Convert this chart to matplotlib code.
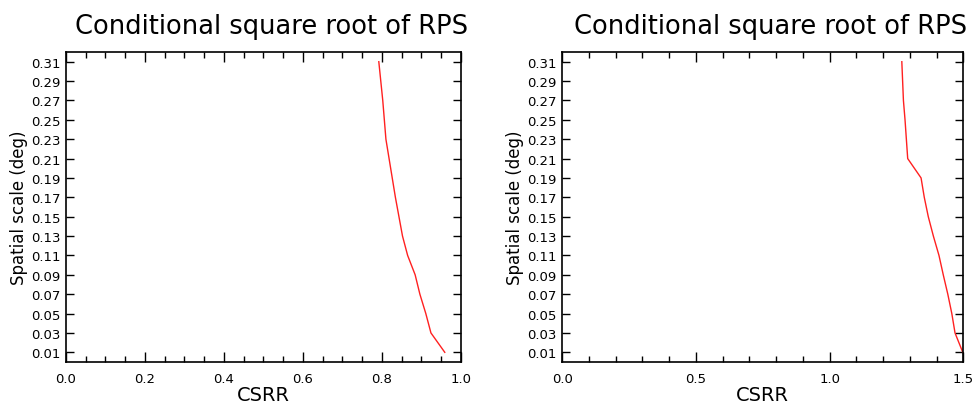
import matplotlib

matplotlib.use("Agg")

import matplotlib.pyplot as plt
import numpy as np
from matplotlib.ticker import MultipleLocator, FormatStrFormatter

# Spatial scale (deg), shared by both panels
scale = [0.31, 0.29, 0.27, 0.25, 0.23, 0.21, 0.19, 0.17,
         0.15, 0.13, 0.11, 0.09, 0.07, 0.05, 0.03, 0.01]

# CSRR
csrr_left = [0.792, 0.797, 0.802, 0.806, 0.810, 0.818, 0.826, 0.834,
             0.843, 0.852, 0.865, 0.884, 0.896, 0.911, 0.924, 0.959]
csrr_right = [1.270, 1.273, 1.276, 1.282, 1.287, 1.292, 1.342, 1.354,
              1.369, 1.388, 1.409, 1.425, 1.442, 1.457, 1.469, 1.498]

title = "Conditional square root of RPS"
ytick_vals = np.round(np.arange(0.01, 0.32, 0.02), 2)

fig = plt.figure(figsize=(9.76, 4.06), dpi=100)
fig.patch.set_facecolor("white")

panels = [
    (csrr_left, [0.0676, 0.1059, 0.4047, 0.7635], 1.0, 0.2, 0.05),
    (csrr_right, [0.5761, 0.1059, 0.4109, 0.7635], 1.5, 0.5, 0.1),
]

for x, rect, xmax, major, minor in panels:
    ax = fig.add_axes(rect)
    ax.plot(x, scale, color="#ff2020", lw=1.0)
    ax.set_xlim(0, xmax)
    ax.set_ylim(0.0, 0.32)
    ax.xaxis.set_major_locator(MultipleLocator(major))
    ax.xaxis.set_minor_locator(MultipleLocator(minor))
    ax.xaxis.set_major_formatter(FormatStrFormatter("%.1f"))
    ax.set_yticks(ytick_vals)
    ax.yaxis.set_major_formatter(FormatStrFormatter("%.2f"))
    ax.tick_params(axis="both", which="both", direction="in",
                   top=True, right=True, labelsize=9.5, width=1.0)
    ax.tick_params(axis="x", which="major", length=7, pad=7)
    ax.tick_params(axis="x", which="minor", length=4)
    ax.tick_params(axis="y", which="major", length=6, pad=4)
    for s in ax.spines.values():
        s.set_linewidth(1.2)
    ax.set_title(title, fontsize=18.5, pad=14, x=0.52)
    ax.set_xlabel("CSRR", fontsize=14, labelpad=0)
    ax.set_ylabel("Spatial scale (deg)", fontsize=12, labelpad=2)

fig.savefig("out.png", dpi=100, facecolor="white")
